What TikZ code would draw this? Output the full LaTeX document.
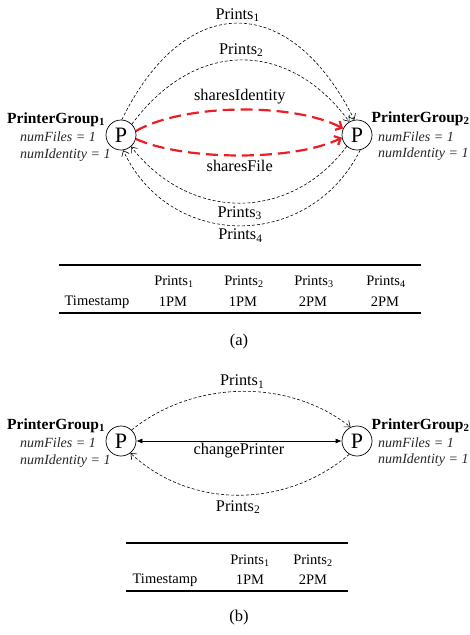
\documentclass[tikz,border=0pt]{standalone}
\usepackage{fontspec}
\setmainfont{Liberation Serif}
\usetikzlibrary{arrows.meta}
\definecolor{myred}{RGB}{235,30,35}
\newcommand\sbs[1]{\textsubscript{#1}}
\begin{document}
\begin{tikzpicture}[x=1pt,y=-1pt,
  pnode/.style={circle,draw,line width=0.7pt,minimum size=30pt,inner sep=0pt,font=\fontsize{22}{22}\selectfont},
  lbl/.style={font=\fontsize{16.3}{18}\selectfont,inner sep=0pt,text=black},
  grp/.style={font=\fontsize{15.5}{18}\selectfont\bfseries,inner sep=0pt,anchor=west},
  attr/.style={font=\fontsize{14}{16}\selectfont\itshape,inner sep=0pt,anchor=west,text=black!85},
  prt/.style={dash pattern=on 3pt off 2pt,line width=0.6pt,-{Straight Barb[length=5pt,width=8pt]}},
  rdarr/.style={myred,line width=2.2pt,dash pattern=on 12pt off 6pt,-{Straight Barb[length=5pt,width=10pt]}},
  tab/.style={font=\fontsize{14.5}{16}\selectfont,inner sep=0pt},
  captxt/.style={font=\fontsize{16.5}{18}\selectfont,inner sep=0pt},
  rulel/.style={line width=1.5pt},
]
\useasboundingbox (0,0) rectangle (469,635);

% ---------- (a) ----------
\node[pnode] (p1a) at (121,135) {P};
\node[pnode] (p2a) at (357,135) {P};

\node[grp] (g1a) at (7,120) {PrinterGroup\sbs{1}};
\node[attr] (f1a) at (20,137) {numFiles = 1};
\node[attr] (i1a) at (20,155) {numIdentity = 1};
\node[grp] (g2a) at (371.5,119) {PrinterGroup\sbs{2}};
\node[attr] (f2a) at (378,137) {numFiles = 1};
\node[attr] (i2a) at (378,154) {numIdentity = 1};

\draw[prt] (p1a.87) .. controls (185,-9) and (290,-9) .. (p2a.100)
  node[lbl,pos=0.5,yshift=8pt] (l1a) {Prints\sbs{1}};
\draw[prt] (p1a.45) .. controls (195,39) and (288,39) .. (p2a.120)
  node[lbl,pos=0.5,yshift=10pt] (l2a) {Prints\sbs{2}};
\draw[rdarr] (p1a.15) .. controls (185,103) and (295,103) .. (p2a.155)
  node[lbl,pos=0.5,yshift=13pt] (l3a) {sharesIdentity};
\draw[rdarr] (p1a.-15) .. controls (185,161) and (295,161) .. (p2a.190)
  node[lbl,pos=0.5,yshift=-11pt] (l4a) {sharesFile};
\draw[prt] (p2a.-132) .. controls (290,222) and (190,222) .. (p1a.-49)
  node[lbl,pos=0.5,yshift=-10pt] (l5a) {Prints\sbs{3}};
\draw[prt] (p2a.-78) .. controls (310,251) and (170,251) .. (p1a.-82)
  node[lbl,pos=0.5,yshift=-10pt] (l6a) {Prints\sbs{4}};

\draw[rulel] (59,265) -- (421,265);
\draw[rulel] (59,313) -- (421,313);
\node[tab] (h1a) at (174,282) {Prints\sbs{1}};
\node[tab] (h2a) at (244,282) {Prints\sbs{2}};
\node[tab] (h3a) at (314,282) {Prints\sbs{3}};
\node[tab] (h4a) at (386,282) {Prints\sbs{4}};
\node[tab] (tsa) at (97,302) {Timestamp};
\node[tab] (v1a) at (173,302) {1PM};
\node[tab] (v2a) at (243,302) {1PM};
\node[tab] (v3a) at (313,302) {2PM};
\node[tab] (v4a) at (385,302) {2PM};
\node[captxt] (capa) at (239,342) {(a)};

% ---------- (b) ----------
\node[pnode] (p1b) at (121,441) {P};
\node[pnode] (p2b) at (357,441) {P};

\node[grp] (g1b) at (7,426) {PrinterGroup\sbs{1}};
\node[attr] (f1b) at (20,443) {numFiles = 1};
\node[attr] (i1b) at (20,461) {numIdentity = 1};
\node[grp] (g2b) at (371.5,426) {PrinterGroup\sbs{2}};
\node[attr] (f2b) at (378,443) {numFiles = 1};
\node[attr] (i2b) at (378,460) {numIdentity = 1};

\draw[prt] (p1b.46) .. controls (195,379) and (290,379) .. (p2b.115)
  node[lbl,pos=0.5,yshift=10pt] (l1b) {Prints\sbs{1}};
\draw[prt] (p2b.-120) .. controls (285,509) and (190,509) .. (p1b.-52)
  node[lbl,pos=0.5,yshift=-12pt] (l2b) {Prints\sbs{2}};
\draw[line width=0.7pt,{Latex[length=6pt,width=5pt]}-{Latex[length=6pt,width=5pt]}] (p1b.east) -- (p2b.west)
  node[lbl,midway,yshift=-9.5pt] (l3b) {changePrinter};

\draw[rulel] (126,543) -- (348,543);
\draw[rulel] (126,591) -- (348,591);
\node[tab] (h1b) at (250,561) {Prints\sbs{1}};
\node[tab] (h2b) at (313,561) {Prints\sbs{2}};
\node[tab] (tsb) at (165,580) {Timestamp};
\node[tab] (v1b) at (250,580) {1PM};
\node[tab] (v2b) at (313,580) {2PM};
\node[captxt] (capb) at (239,618) {(b)};
\end{tikzpicture}
\end{document}
